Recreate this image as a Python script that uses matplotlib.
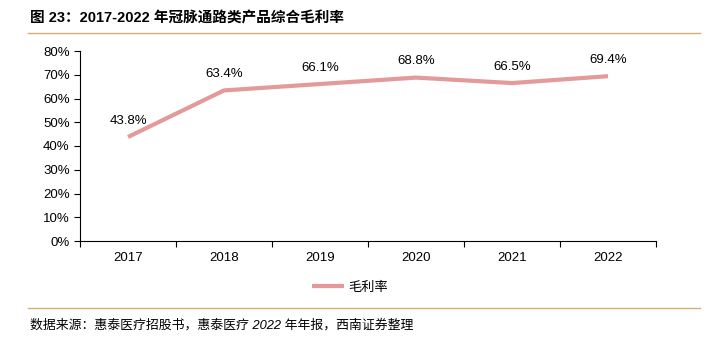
import matplotlib.pyplot as plt
from matplotlib.lines import Line2D
from matplotlib.ticker import FuncFormatter

plt.rcParams['font.family'] = ['Liberation Sans', 'Noto Sans CJK SC', 'DejaVu Sans']

# data
years = ['2017', '2018', '2019', '2020', '2021', '2022']
margin = [43.8, 63.4, 66.1, 68.8, 66.5, 69.4]
y_ticks = [0, 10, 20, 30, 40, 50, 60, 70, 80]

line_color = '#E29A9A'
gold = '#D4AE72'

fig = plt.figure(figsize=(7.04, 3.39), dpi=100)
W, H = 704, 339
ax = fig.add_axes([80 / W, 1 - 241 / H, 576 / W, 190 / H])

x = list(range(len(years)))
ax.plot(x, margin, color=line_color, lw=3, solid_capstyle='butt', label='毛利率')
for xi, v in zip(x, margin):
    ax.annotate(f'{v:.1f}%', (xi, v), xytext=(0, 7.5), textcoords='offset points',
                ha='center', va='bottom', fontsize=9.5)

ax.set_xlim(-0.5, len(years) - 0.5)
ax.set_ylim(0, 80)
ax.set_yticks(y_ticks)
ax.yaxis.set_major_formatter(FuncFormatter(lambda v, p: f'{v:.0f}%'))
ax.set_xticks([i - 0.5 for i in range(len(years) + 1)])
ax.set_xticklabels([])
ax.set_xticks(x, minor=True)
ax.set_xticklabels(years, minor=True)
ax.tick_params(axis='x', which='minor', length=0, pad=8, labelsize=9.5)
ax.tick_params(axis='x', which='major', length=4, direction='out')
ax.tick_params(axis='y', length=4, labelsize=9.5)
for s in ['top', 'right']:
    ax.spines[s].set_visible(False)

ax.legend(loc='center', bbox_to_anchor=(350 / W, 1 - 287 / H),
          bbox_transform=fig.transFigure, frameon=False,
          handlelength=2.4, handletextpad=0.3,
          prop={'family': ['Noto Sans CJK SC'], 'size': 9.5})

fig.text(30 / W, 1 - 18 / H, '图 23：2017-2022 年冠脉通路类产品综合毛利率',
         fontsize=10.5, fontweight='bold', va='center', ha='left',
         family=['Liberation Sans', 'Noto Sans CJK SC'])
fig.add_artist(Line2D([28 / W, 700 / W], [1 - 33 / H, 1 - 33 / H], color=gold, lw=1))
fig.add_artist(Line2D([28 / W, 700 / W], [1 - 308 / H, 1 - 308 / H], color=gold, lw=1))
fig.text(30 / W, 1 - 325 / H, '数据来源：惠泰医疗招股书，惠泰医疗 2022 年年报，西南证券整理',
         fontsize=9.3, style='italic', va='center', ha='left',
         family=['Liberation Sans', 'Noto Sans CJK SC'])

fig.savefig('out.png', dpi=100)
